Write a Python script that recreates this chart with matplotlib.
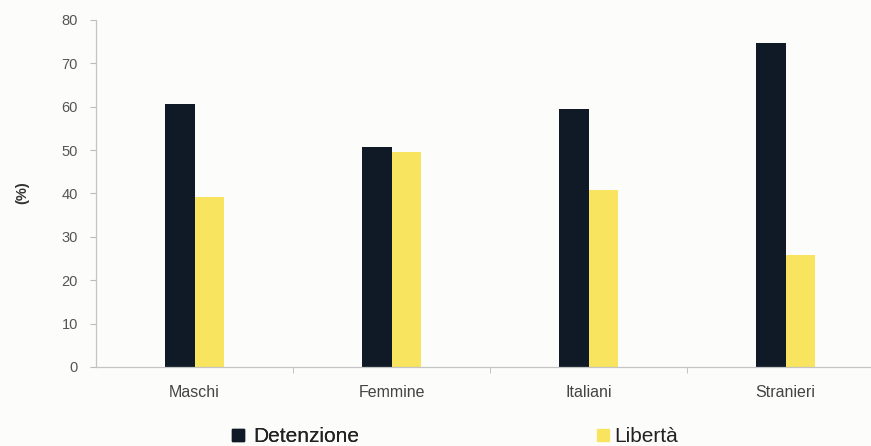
import matplotlib
matplotlib.use("Agg")
import matplotlib.pyplot as plt
import numpy as np
from matplotlib.patches import Patch

plt.rcParams['font.family'] = ['Liberation Sans', 'DejaVu Sans']

categories = ["Maschi", "Femmine", "Italiani", "Stranieri"]
detenzione = [60.7, 50.7, 59.4, 74.8]
liberta = [39.2, 49.5, 40.8, 25.8]
yticks = [0, 10, 20, 30, 40, 50, 60, 70, 80]

dark = "#0f1a26"
yellow = "#f8e45e"

fig = plt.figure(figsize=(8.71, 4.46), dpi=100, facecolor="#fcfdfb")
ax = fig.add_axes([96/871, 79/446, 788/871, 347/446])
ax.set_facecolor("#fcfdfb")

x = np.arange(len(categories))
w = 0.152
ax.bar(x - w/2, detenzione, width=w, color=dark, label="Detenzione")
ax.bar(x + w/2, liberta, width=w, color=yellow, label="Libertà")

ax.set_xlim(-0.5, len(categories) - 0.5)
ax.set_ylim(0, 80)
ax.set_yticks(yticks)
ax.set_yticklabels([str(v) for v in yticks], fontsize=10.5, color="#555555")
ax.set_xticks(x)
ax.set_xticklabels(categories, fontsize=11.5, color="#444444")
ax.tick_params(axis='x', length=0, pad=13)
ax.set_xticks(x[:-1] + 0.5, minor=True)
ax.tick_params(axis='x', which='minor', length=4, color="#bbbbbb", direction='out')
ax.tick_params(axis='y', length=4, color="#bbbbbb", direction='out', pad=9)

for s in ["top", "right"]:
    ax.spines[s].set_visible(False)
for s in ["left", "bottom"]:
    ax.spines[s].set_color("#c4c4c4")
    ax.spines[s].set_linewidth(0.9)

fig.text(22/871, 1 - 193/446, "(%)", rotation=90, ha="center", va="center",
         fontsize=10.5, fontweight="bold", color="#333333")

leg1 = fig.legend(handles=[Patch(color=dark)], labels=["Detenzione"],
                  loc="center left", bbox_to_anchor=(222/871, 1 - 437/446),
                  frameon=False, fontsize=15, handlelength=0.55, handleheight=0.55,
                  handletextpad=0.45, borderpad=0, labelcolor="#222222")
leg2 = fig.legend(handles=[Patch(color=yellow)], labels=["Libertà"],
                  loc="center left", bbox_to_anchor=(587/871, 1 - 437/446),
                  frameon=False, fontsize=15, handlelength=0.55, handleheight=0.55,
                  handletextpad=0.25, borderpad=0, labelcolor="#222222")
fig.add_artist(leg1)

fig.savefig("out.png", dpi=100, facecolor=fig.get_facecolor())
